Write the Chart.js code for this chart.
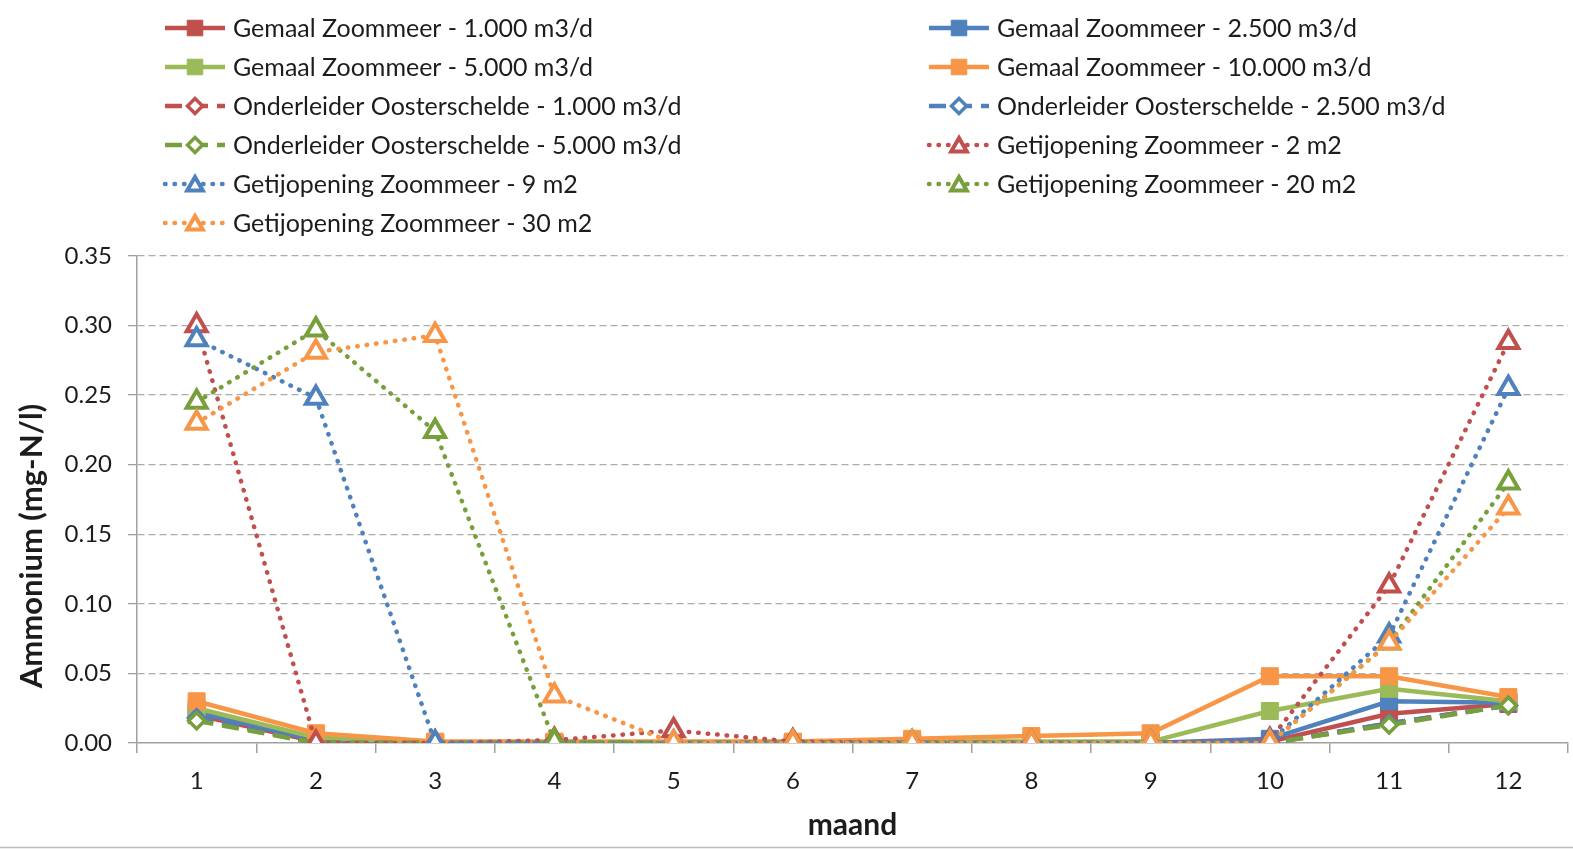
<!DOCTYPE html>
<html>
<head>
<meta charset="utf-8">
<script src="https://cdn.jsdelivr.net/npm/chart.js@4.4.1/dist/chart.umd.min.js"></script>
<style>
  html, body { margin: 0; padding: 0; background: #ffffff; }
  #wrap { position: relative; width: 1573px; height: 849px; }
</style>
</head>
<body>
<div id="wrap"><canvas id="c" width="1573" height="849"></canvas></div>
<script>
// Months on the x axis
const months = ['1', '2', '3', '4', '5', '6', '7', '8', '9', '10', '11', '12'];

// Ammonium (mg-N/l) per month for each scenario
const gemaal1000 = [0.020, 0.001, 0.000, 0.000, 0.000, 0.000, 0.000, 0.000, 0.000, 0.001, 0.021, 0.028];
const gemaal2500 = [0.022, 0.002, 0.000, 0.000, 0.000, 0.000, 0.000, 0.000, 0.000, 0.003, 0.030, 0.029];
const gemaal5000 = [0.025, 0.004, 0.000, 0.000, 0.000, 0.000, 0.001, 0.001, 0.001, 0.023, 0.039, 0.030];
const gemaal10000 = [0.030, 0.007, 0.001, 0.001, 0.001, 0.001, 0.003, 0.005, 0.007, 0.048, 0.048, 0.033];
const onderleider1000 = [0.018, 0.000, 0.000, 0.000, 0.000, 0.000, 0.000, 0.000, 0.000, 0.000, 0.014, 0.027];
const onderleider2500 = [0.018, 0.000, 0.000, 0.000, 0.000, 0.000, 0.000, 0.000, 0.000, 0.000, 0.014, 0.027];
const onderleider5000 = [0.016, 0.000, 0.000, 0.000, 0.000, 0.000, 0.000, 0.000, 0.000, 0.000, 0.013, 0.027];
const getij2 = [0.300, 0.000, 0.000, 0.002, 0.009, 0.001, 0.000, 0.000, 0.000, 0.002, 0.113, 0.288];
const getij9 = [0.290, 0.248, 0.000, 0.000, 0.000, 0.000, 0.000, 0.000, 0.000, 0.001, 0.077, 0.255];
const getij20 = [0.245, 0.297, 0.224, 0.001, 0.000, 0.000, 0.000, 0.000, 0.000, 0.000, 0.072, 0.187];
const getij30 = [0.230, 0.281, 0.293, 0.034, 0.000, 0.000, 0.000, 0.000, 0.000, 0.000, 0.072, 0.169];

// Y axis tick values
const yTicks = [0.00, 0.05, 0.10, 0.15, 0.20, 0.25, 0.30, 0.35];

const RED = '#C0504D', BLUE = '#4F81BD', GREEN = '#9BBB59', OLIVE = '#77A03C', ORANGE = '#F79646';

function solid(label, data, color) {
  return { label, data, borderColor: color, backgroundColor: color, borderWidth: 4.5,
    pointStyle: 'rect', pointRadius: 12, pointBackgroundColor: color, pointBorderColor: color,
    pointBorderWidth: 1, tension: 0 };
}
function dashed(label, data, color) {
  return { label, data, borderColor: color, backgroundColor: '#ffffff', borderWidth: 4.5,
    borderDash: [17, 9], pointStyle: 'rectRot', pointRadius: 8, pointBackgroundColor: '#ffffff',
    pointBorderColor: color, pointBorderWidth: 3.5, tension: 0 };
}
function dotted(label, data, color) {
  return { label, data, borderColor: color, backgroundColor: '#ffffff', borderWidth: 4.5,
    borderDash: [0.5, 9], borderCapStyle: 'round', pointStyle: 'triangle', pointRadius: 11.5,
    pointBackgroundColor: '#ffffff', pointBorderColor: color, pointBorderWidth: 4, tension: 0 };
}

const datasets = [
  solid('Gemaal Zoommeer - 1.000 m3/d', gemaal1000, RED),
  solid('Gemaal Zoommeer - 2.500 m3/d', gemaal2500, BLUE),
  solid('Gemaal Zoommeer - 5.000 m3/d', gemaal5000, GREEN),
  solid('Gemaal Zoommeer - 10.000 m3/d', gemaal10000, ORANGE),
  dashed('Onderleider Oosterschelde - 1.000 m3/d', onderleider1000, RED),
  dashed('Onderleider Oosterschelde - 2.500 m3/d', onderleider2500, BLUE),
  dashed('Onderleider Oosterschelde - 5.000 m3/d', onderleider5000, OLIVE),
  dotted('Getijopening Zoommeer - 2 m2', getij2, RED),
  dotted('Getijopening Zoommeer - 9 m2', getij9, BLUE),
  dotted('Getijopening Zoommeer - 20 m2', getij20, OLIVE),
  dotted('Getijopening Zoommeer - 30 m2', getij30, ORANGE)
];
// later series are painted on top of earlier ones
datasets.forEach((d, i) => { d.order = datasets.length - i; });

const TEXT = '#1c1c1c';
const AXIS = '#A0A0A0';
const GRID = '#ABABAB';

// Two-column legend above the plot, plus the rotated y-axis title and bottom frame line
const decorations = {
  id: 'decorations',
  afterDraw(chart) {
    const ctx = chart.ctx;
    chart.data.datasets.forEach((ds, i) => {
      const col = i % 2, row = Math.floor(i / 2);
      const x0 = col ? 929 : 165;
      const y = 28 + row * 39;
      ctx.save();
      ctx.strokeStyle = ds.borderColor;
      ctx.lineWidth = ds.borderWidth;
      ctx.lineCap = ds.borderCapStyle || 'butt';
      ctx.setLineDash(ds.borderDash || []);
      ctx.beginPath();
      ctx.moveTo(x0, y);
      ctx.lineTo(x0 + 60, y);
      ctx.stroke();
      ctx.setLineDash([]);
      ctx.fillStyle = ds.pointBackgroundColor;
      ctx.strokeStyle = ds.pointBorderColor;
      ctx.lineWidth = ds.pointBorderWidth;
      Chart.helpers.drawPoint(ctx, {
        pointStyle: ds.pointStyle,
        radius: ds.pointStyle === 'rect' ? 11 : (ds.pointStyle === 'triangle' ? 9 : 7.5),
        borderWidth: ds.pointBorderWidth,
        rotation: 0
      }, x0 + 30, ds.pointStyle === 'triangle' ? y + 2 : y);
      ctx.fillStyle = TEXT;
      ctx.font = '25px Lato';
      ctx.textAlign = 'left';
      ctx.textBaseline = 'middle';
      ctx.fillText(ds.label, x0 + 68, y + 1);
      ctx.restore();
    });

    ctx.save();
    ctx.translate(32, 546);
    ctx.rotate(-Math.PI / 2);
    ctx.fillStyle = TEXT;
    ctx.font = 'bold 31px Lato';
    ctx.textAlign = 'center';
    ctx.textBaseline = 'middle';
    ctx.fillText('Ammonium (mg-N/l)', 0, 0);
    ctx.restore();

    ctx.save();
    ctx.strokeStyle = '#BDBDBD';
    ctx.lineWidth = 1.5;
    ctx.beginPath();
    ctx.moveTo(0, 847.5);
    ctx.lineTo(1573, 847.5);
    ctx.stroke();
    ctx.restore();
  }
};

new Chart(document.getElementById('c'), {
  type: 'line',
  data: { labels: months, datasets },
  options: {
    responsive: false,
    animation: false,
    events: [],
    layout: { autoPadding: false, padding: { top: 256, right: 5, bottom: 0, left: 0 } },
    plugins: { legend: { display: false }, tooltip: { enabled: false } },
    scales: {
      x: {
        offset: true,
        afterFit(scale) { scale.height = 106; },
        grid: { display: true, drawOnChartArea: false, drawTicks: true, tickLength: 10,
          offset: true, color: AXIS, tickColor: AXIS, lineWidth: 1.5 },
        border: { display: true, color: AXIS, width: 1.5 },
        ticks: { color: TEXT, font: { family: 'Lato', size: 24 }, padding: 14, maxRotation: 0, autoSkip: false },
        title: { display: true, text: 'maand', color: TEXT,
          font: { family: 'Lato', size: 30, weight: 'bold' }, padding: { top: 0, bottom: 6 } }
      },
      y: {
        min: 0,
        max: 0.35,
        afterFit(scale) { scale.width = 137; },
        afterBuildTicks(scale) { scale.ticks = yTicks.map(v => ({ value: v })); },
        grid: {
          color: c => (c.tick && c.tick.value === 0 ? 'rgba(0,0,0,0)' : GRID),
          tickColor: AXIS,
          lineWidth: 1.3,
          tickLength: 9,
          tickBorderDash: []
        },
        border: { display: true, color: AXIS, width: 1.5, dash: [7, 4] },
        ticks: { color: TEXT, font: { family: 'Lato', size: 24 }, padding: 16,
          callback: v => Number(v).toFixed(2) }
      }
    }
  },
  plugins: [decorations]
});
</script>
</body>
</html>
